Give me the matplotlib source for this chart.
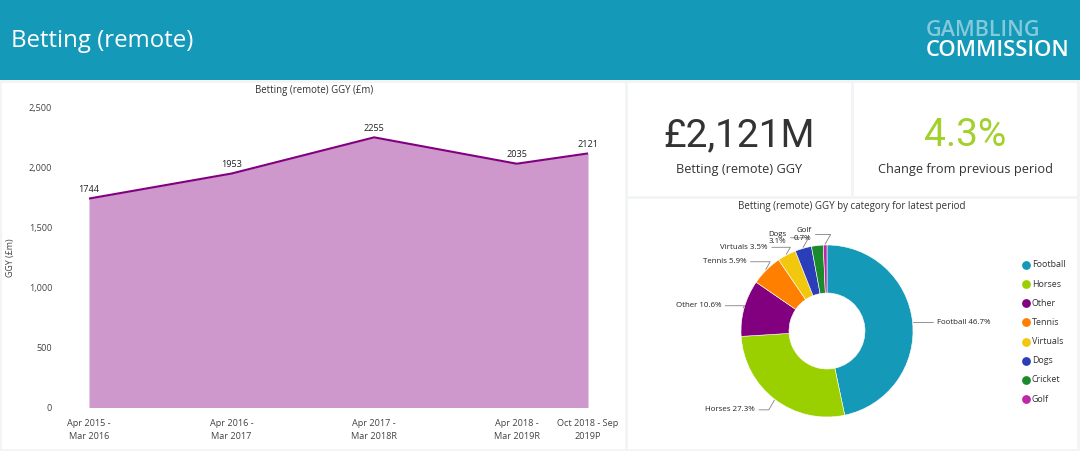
import numpy as np
import matplotlib
matplotlib.use("Agg")
import matplotlib.pyplot as plt
from matplotlib.patches import Rectangle

periods = ["Apr 2015 -\nMar 2016", "Apr 2016 -\nMar 2017", "Apr 2017 -\nMar 2018R",
           "Apr 2018 -\nMar 2019R", "Oct 2018 - Sep\n2019P"]
period_years = [2015.25, 2016.25, 2017.25, 2018.25, 2018.75]
ggy = [1744, 1953, 2255, 2035, 2121]
y_ticks = [0, 500, 1000, 1500, 2000, 2500]

categories = ["Football", "Horses", "Other", "Tennis", "Virtuals", "Dogs", "Cricket", "Golf"]
shares = [46.7, 27.3, 10.6, 5.9, 3.5, 3.1, 2.2, 0.7]
colors = ["#1499B8", "#9BD000", "#820080", "#FF7F00", "#F2C80F", "#2B3DB8", "#1A8A2A", "#C026A8"]

W, H = 1080, 451
plt.rcParams["font.family"] = ["Open Sans", "DejaVu Sans"]
fig = plt.figure(figsize=(W / 100, H / 100), dpi=100, facecolor="#F2F4F5")


def box(x0, y0, x1, y1, **kw):
    return fig.add_axes([x0 / W, 1 - y1 / H, (x1 - x0) / W, (y1 - y0) / H], **kw)


def ftext(x, y, s, **kw):
    kw.setdefault("ha", "center")
    kw.setdefault("va", "center")
    return fig.text(x / W, 1 - y / H, s, **kw)


def panel(x0, y0, x1, y1, color="white"):
    fig.add_artist(Rectangle((x0 / W, 1 - y1 / H), (x1 - x0) / W, (y1 - y0) / H,
                             transform=fig.transFigure, fc=color, ec="none", zorder=-5))


# Header and panels
panel(0, 0, W, 80, "#1499B8")
panel(2, 83, 625, 449)
panel(628, 83, 851, 196)
panel(854, 83, 1077, 196)
panel(628, 199, 1077, 449)

ftext(11, 41, "Betting (remote)", ha="left", color="white", fontsize=17.3, family="Open Sans")
ftext(926, 31, "GAMBLING", ha="left", color="#85C9DA", fontsize=15.5, family="Open Sans", fontweight="semibold")
ftext(926, 50, "COMMISSION", ha="left", color="white", fontsize=15.8, family="Open Sans", fontweight="semibold")

# Area chart
ax = box(89, 108, 588, 407.5)
ax.patch.set_alpha(0)
ax.set_xlim(period_years[0], period_years[-1])
ax.set_ylim(0, 2500)
ax.fill_between(period_years, ggy, 0, color="#CE98CC", lw=0)
ax.plot(period_years, ggy, color="#820080", lw=1.5, clip_on=False, solid_capstyle="butt")
for s in ax.spines.values():
    s.set_visible(False)
ax.set_yticks(y_ticks)
ax.set_yticklabels([f"{v:,}" for v in y_ticks], fontsize=6.6, color="#444444")
ax.set_xticks(period_years)
ax.set_xticklabels(periods, fontsize=6.6, color="#444444", linespacing=1.55)
ax.tick_params(length=0, axis="y", pad=26.5)
ax.tick_params(length=0, axis="x", pad=8.5)
ftext(10, 257.5, "GGY (£m)", rotation=90, fontsize=6.4, color="#444444")
for x, v in zip(period_years, ggy):
    ax.annotate(str(v), (x, v), xytext=(0, 3.2), textcoords="offset points", ha="center",
                va="bottom", fontsize=6.6, color="#222222", fontweight="medium",
                annotation_clip=False)
ftext(314, 91, "Betting (remote) GGY (£m)", fontsize=6.9, color="#333333")

# KPI cards
ftext(739.5, 136, "£2,121M", fontsize=28, color="#333333", family="Roboto")
ftext(739.5, 170, "Betting (remote) GGY", fontsize=9.2, color="#333333")
ftext(965, 136, "4.3%", fontsize=28, color="#A2D12E", family="Roboto")
ftext(965, 170, "Change from previous period", fontsize=9.2, color="#333333")

# Donut
ftext(852, 207, "Betting (remote) GGY by category for latest period", fontsize=7.0, color="#333333")
R = 86
pie = box(827 - R, 331 - R, 827 + R, 331 + R)
pie.patch.set_alpha(0)
wedges, _ = pie.pie(shares, colors=colors, startangle=90, counterclock=False, radius=1,
                    wedgeprops=dict(width=1 - 38 / 86, edgecolor="white", linewidth=0.4))
pie.set_xlim(-1, 1)
pie.set_ylim(-1, 1)
pie.set_aspect("equal")

labels = {
    "Football": ("Football 46.7%", (17, 0), "left"),
    "Horses": ("Horses 27.3%", (-14, -7), "right"),
    "Other": ("Other 10.6%", (-16, 1.5), "right"),
    "Tennis": ("Tennis 5.9%", (-14, 5.5), "right"),
    "Virtuals": ("Virtuals 3.5%", (-13.5, 5), "right"),
    "Dogs": ("Dogs\n3.1%", (-12, 7), "right"),
    "Golf": ("Golf\n0.7%", (-10, 7), "right"),
}
for w, name in zip(wedges, categories):
    if name not in labels:
        continue
    text, off, ha = labels[name]
    ang = np.deg2rad((w.theta1 + w.theta2) / 2)
    pie.annotate(text, (np.cos(ang) * 1.01, np.sin(ang) * 1.01), xytext=off,
                 textcoords="offset points", ha=ha, va="center", fontsize=5.7, color="#222222",
                 linespacing=1.1, annotation_clip=False, fontweight="medium",
                 arrowprops=dict(arrowstyle="-", color="#808080", lw=0.6, shrinkA=1, shrinkB=0,
                                 connectionstyle="angle,angleA=0,angleB=60,rad=0"))

# Legend
leg_ax = box(1015, 255.4, 1077, 408.6)
leg_ax.axis("off")
leg_ax.set_xlim(0, 62)
leg_ax.set_ylim(len(categories) - 0.5, -0.5)
for i, (name, c) in enumerate(zip(categories, colors)):
    leg_ax.scatter([11], [i], s=40, color=c, lw=0, clip_on=False)
    leg_ax.text(17, i, name, fontsize=6.4, color="#333333", va="center", ha="left")

fig.savefig("out.png", dpi=100, facecolor=fig.get_facecolor())
